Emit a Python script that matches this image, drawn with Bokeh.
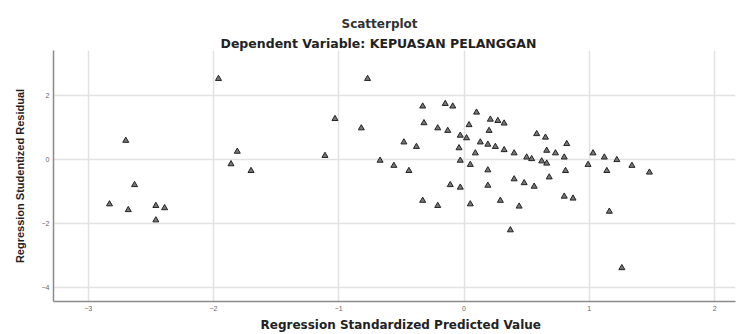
from bokeh.plotting import figure
from bokeh.models import Range1d, FixedTicker, Title
from bokeh.embed import file_html
from bokeh.resources import INLINE

# Regression standardized predicted value (x) and studentized residual (y)
pred = [-1.96, -0.77, -2.70, -1.03, -0.82, -1.81, -1.86, -1.70, -1.11, -0.67, -0.56,
        -2.63, -2.83, -2.68, -2.46, -2.39, -2.46,
        -0.33, -0.15, -0.09, 0.10, 0.21, 0.27, 0.32, -0.32, -0.21, -0.13, 0.04, 0.20,
        -0.03, 0.02, 0.58, 0.65, -0.48, -0.38, -0.04, 0.13, 0.19, 0.25, 0.32, 0.09, 0.40,
        0.82, 0.66, 0.73, 0.80, 0.50, 0.54, 0.62, 0.66, -0.44, -0.03, 0.05, 0.19, 0.81,
        0.99, 1.03, 1.12, 1.22, 1.14, 1.34, 1.48, -0.11, -0.03, 0.19, 0.40, 0.48, 0.56,
        0.68, -0.33, -0.21, 0.05, 0.29, 0.44, 0.80, 0.87, 1.16, 0.37, 1.26]
resid = [2.51, 2.51, 0.58, 1.26, 0.97, 0.24, -0.15, -0.36, 0.11, -0.04, -0.20,
         -0.80, -1.40, -1.58, -1.45, -1.52, -1.90,
         1.65, 1.73, 1.65, 1.46, 1.24, 1.20, 1.12, 1.13, 0.97, 0.89, 1.07, 0.89,
         0.74, 0.66, 0.79, 0.68, 0.53, 0.39, 0.35, 0.53, 0.46, 0.39, 0.29, 0.19, 0.19,
         0.48, 0.27, 0.19, 0.06, 0.06, 0.01, -0.06, -0.13, -0.36, -0.04, -0.17, -0.34, -0.36,
         -0.17, 0.19, 0.06, -0.02, -0.36, -0.20, -0.41, -0.80, -0.88, -0.82, -0.62, -0.74, -0.85,
         -0.56, -1.29, -1.45, -1.40, -1.29, -1.47, -1.16, -1.22, -1.63, -2.21, -3.39]

x_ticks = [-3, -2, -1, 0, 1, 2]
y_ticks = [-4, -2, 0, 2]

title_main = "Scatterplot"
title_sub = "Dependent Variable: KEPUASAN PELANGGAN"
x_label = "Regression Standardized Predicted Value"
y_label = "Regression Studentized Residual"

p = figure(width=736, height=334, output_backend="svg", toolbar_location=None,
           x_range=Range1d(-3.277, 2.167), y_range=Range1d(-4.437, 3.39),
           min_border_left=53, min_border_right=1, min_border_top=50, min_border_bottom=33)

# outermost title
p.title.text = title_main
p.title.align = "left"
p.title.text_font = "DejaVu Sans"
p.title.text_font_size = "12px"
p.title.text_font_style = "bold"
p.title.text_color = "#333333"
p.title.standoff = 6
p.title.offset = 288

t2 = Title(text=title_sub, align="left", text_font="DejaVu Sans", text_font_size="12.5px",
           text_font_style="bold", text_color="#222222", standoff=0, offset=167)
p.add_layout(t2, "above")

p.outline_line_color = None
p.background_fill_color = "white"

for ax in (p.xaxis[0], p.yaxis[0]):
    ax.axis_line_color = "#8a8a8a"
    ax.axis_line_width = 1.5
    ax.major_tick_line_color = None
    ax.minor_tick_line_color = None
    ax.major_tick_out = 0
    ax.major_tick_in = 0
    ax.major_label_text_font = "Liberation Sans"
    ax.major_label_text_font_size = "7px"
    ax.major_label_text_color = "#666666"
    ax.major_label_standoff = 4

p.xaxis.ticker = FixedTicker(ticks=x_ticks)
p.yaxis.ticker = FixedTicker(ticks=y_ticks)

p.yaxis.axis_label = y_label
p.yaxis.axis_label_text_font = "Liberation Sans"
p.yaxis.axis_label_text_font_size = "11px"
p.yaxis.axis_label_text_font_style = "bold"
p.yaxis.axis_label_text_color = "#222222"
p.yaxis.axis_label_standoff = 13

xt = Title(text=x_label, align="left", text_font="DejaVu Sans", text_font_size="12px",
           text_font_style="bold", text_color="#222222", standoff=5, offset=207)
p.add_layout(xt, "below")

p.xgrid.ticker = FixedTicker(ticks=x_ticks)
p.ygrid.ticker = FixedTicker(ticks=y_ticks)
p.grid.grid_line_color = "#e2e2e2"
p.grid.grid_line_width = 1.5

p.scatter(pred, resid, marker="triangle", size=6, fill_color="#777777",
          line_color="#222222", line_width=1)

open("out.html", "w").write(file_html(p, INLINE))
